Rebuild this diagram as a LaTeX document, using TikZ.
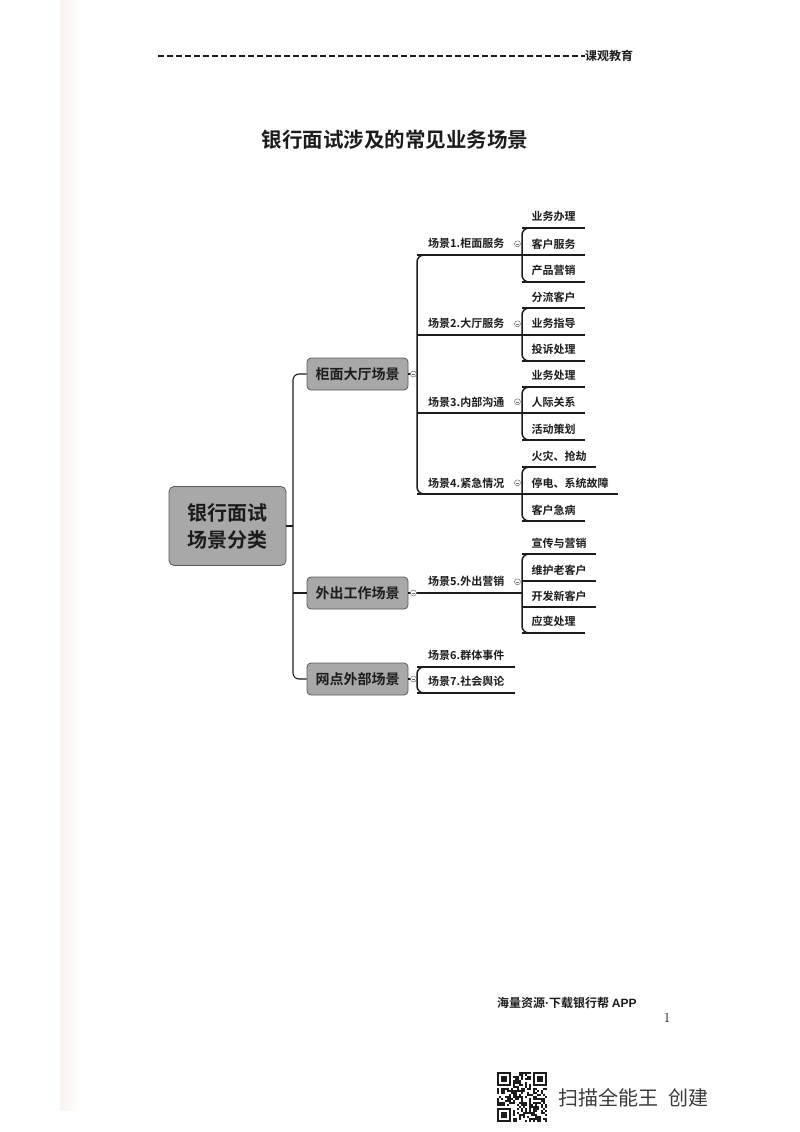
\documentclass[tikz,border=0pt]{standalone}
\usepackage{fontspec}
\usepackage{xcolor}
\usepackage{tikz}
\usetikzlibrary{calc}
\newfontfamily\cjk{Noto Sans CJK SC}[BoldFont={Noto Sans CJK SC Bold}]
\newfontfamily\latin{Liberation Sans}
\definecolor{cBoxF}{HTML}{A8A8A8}
\definecolor{cBoxL}{HTML}{5A5A5A}
\definecolor{cInk}{HTML}{1C1C1C}
\definecolor{cFold}{HTML}{707070}
\definecolor{cEdge}{HTML}{F8F3EF}
\definecolor{cScan}{HTML}{3A3A3A}
\tikzset{
  hubbox/.style={draw=cBoxL,fill=cBoxF,rounded corners=4pt,line width=0.8pt,
      font=\cjk\bfseries\fontsize{14}{16}\selectfont,text=cInk,
      minimum width=101pt,minimum height=32pt,inner sep=0pt},
  rootbox/.style={hubbox,font=\cjk\bfseries\fontsize{20}{27}\selectfont,
      minimum width=117pt,minimum height=79pt,align=center,rounded corners=5pt},
  scenelab/.style={anchor=south west,font=\cjk\bfseries\fontsize{11}{13}\selectfont,
      text=cInk,minimum height=22pt,inner xsep=11pt,inner ysep=0pt},
  leaflab/.style={scenelab,inner xsep=9.5pt},
  twig/.style={draw=cInk,line width=1.5pt},
  trunk/.style={draw=cInk,line width=1.1pt,rounded corners=6pt},
  foldmark/.style={circle,draw=cFold,line width=0.5pt,minimum size=6pt,inner sep=0pt,
      fill=white,path picture={\draw[cFold,line width=0.5pt]
      ([xshift=-1.6pt]path picture bounding box.center) --
      ([xshift=1.6pt]path picture bounding box.center);}},
  pagetext/.style={font=\cjk\bfseries\fontsize{12}{14}\selectfont,text=cInk,
      anchor=west,inner sep=0pt},
}
\newcommand{\leaf}[4]{%
  \node[leaflab] (#1) at (#2,#3) {#4};
  \draw[twig] (#1.south west) -- (#1.south east);}
\newcommand{\scene}[4]{\node[scenelab] (#1) at (#2,#3) {#4};}
\newcommand{\fold}[2]{\node[foldmark] (#1) at (#2) {};}
\newcommand{\twigs}[2]{\draw[twig,rounded corners=7pt] ([xshift=9pt]#1.south west)
  -- (#1.south west) -- (#2.south west) -- ([xshift=9pt]#2.south west);}

\begin{document}
\begin{tikzpicture}[x=1pt,y=-1pt]
  \useasboundingbox (0,0) rectangle (800,1132);
  \shade[left color=cEdge,right color=white] (60,0) rectangle (80,1110);

  \coordinate (rule) at (158,56);
  \node[pagetext] (brand) at (585,56) {课观教育};
  \draw[cInk,line width=1.2pt,dash pattern=on 6pt off 3pt] (rule) -- (brand.west);
  \node[font=\cjk\bfseries\fontsize{20.5}{24}\selectfont,text=cInk] (title)
    at (395,140) {银行面试涉及的常见业务场景};

  \node[rootbox] (root) at (227.5,526) {银行面试\\场景分类};
  \node[hubbox] (hall) at (357.5,374) {柜面大厅场景};
  \node[hubbox] (field) at (357.5,593) {外出工作场景};
  \node[hubbox] (outer) at (357.5,679) {网点外部场景};
  \coordinate (trunk) at (293,526);
  \draw[trunk] (hall.west) -| (trunk) |- (outer.west);
  \draw[trunk] (root.east) -- (trunk);
  \draw[trunk] (field.west) -- (field.west -| trunk);

  \scene{s1}{417}{255}{场景1.柜面服务}
  \scene{s2}{417}{335}{场景2.大厅服务}
  \scene{s3}{417}{413}{场景3.内部沟通}
  \scene{s4}{417}{494}{场景4.紧急情况}
  \scene{s5}{417}{593}{场景5.外出营销}
  \scene{s6}{417}{667}{场景6.群体事件}
  \scene{s7}{417}{693}{场景7.社会舆论}

  \leaf{c11}{522}{228}{业务办理}\leaf{c12}{522}{255}{客户服务}\leaf{c13}{522}{282}{产品营销}
  \leaf{c21}{522}{308}{分流客户}\leaf{c22}{522}{335}{业务指导}\leaf{c23}{522}{361}{投诉处理}
  \leaf{c31}{522}{387}{业务处理}\leaf{c32}{522}{413}{人际关系}\leaf{c33}{522}{440}{活动策划}
  \leaf{c41}{522}{467}{火灾、抢劫}\leaf{c42}{522}{494}{停电、系统故障}\leaf{c43}{522}{521}{客户急病}
  \leaf{c51}{522}{554}{宣传与营销}\leaf{c52}{522}{581}{维护老客户}
  \leaf{c53}{522}{607}{开发新客户}\leaf{c54}{522}{633}{应变处理}

  \twigs{s1}{s4}\twigs{s6}{s7}
  \twigs{c11}{c13}\twigs{c21}{c23}\twigs{c31}{c33}\twigs{c41}{c43}\twigs{c51}{c54}
  \draw[twig] (s1.south west) -- (s1.south west -| c12.south west);
  \draw[twig] (s2.south west) -- (s2.south west -| c22.south west);
  \draw[twig] (s3.south west) -- (s3.south west -| c32.south west);
  \draw[twig] (s4.south west) -- (s4.south west -| c42.south west);
  \draw[twig] (s5.south west) -- (s5.south west -| c51.south west);
  \draw[twig] (s6.south west) -- (s6.south east);
  \draw[twig] (s7.south west) -- (s7.south east);
  \draw[trunk] (hall.east) -- (hall.east -| s1.south west);
  \draw[trunk] (field.east) -- (s5.south west);
  \draw[trunk] (outer.east) -- (outer.east -| s6.south west);

  \fold{hallf}{[xshift=5pt]hall.east}
  \fold{fieldf}{[xshift=5pt]field.east}
  \fold{outerf}{[xshift=5pt]outer.east}
  \fold{s1f}{[xshift=2pt]s1.east}\fold{s2f}{[xshift=2pt]s2.east}
  \fold{s3f}{[xshift=2pt]s3.east}\fold{s4f}{[xshift=2pt]s4.east}
  \fold{s5f}{[xshift=2pt]s5.east}

  \node[pagetext] (ad) at (497,1003) {海量资源{\latin\bfseries ·}下载银行帮 {\latin\bfseries APP}};
  \node[font=\rmfamily\fontsize{14}{16}\selectfont,text=cInk] (pageno) at (667,1018) {1};

  \begin{scope}[shift={(497,1072)}]
    \pgfmathsetseed{42}
    \foreach \i in {0,...,24}{
      \foreach \j in {0,...,24}{
        \pgfmathparse{(\i<8 && \j<8) || (\i>16 && \j<8) || (\i<8 && \j>16) ? 0 : (rnd>0.5)}
        \ifdim\pgfmathresult pt>0.5pt \fill[cInk] (2*\i,2*\j) rectangle ++(2,2); \fi
      }}
    \foreach \fx/\fy in {0/0,36/0,0/36}{
      \fill[cInk] (\fx,\fy) rectangle ++(14,14);
      \fill[white] (\fx+2,\fy+2) rectangle ++(10,10);
      \fill[cInk] (\fx+4,\fy+4) rectangle ++(6,6);}
  \end{scope}
  \node[font=\cjk\fontsize{20}{24}\selectfont,text=cScan,anchor=west,inner sep=0pt]
    (scan) at (558,1098) {扫描全能王\hspace{10pt}创建};
\end{tikzpicture}
\end{document}
